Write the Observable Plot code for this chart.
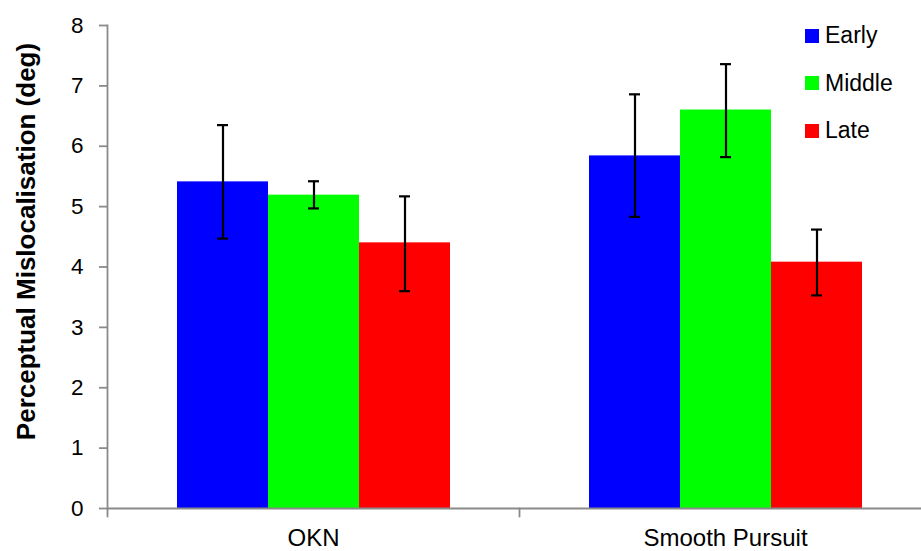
<!DOCTYPE html>
<html><head><meta charset="utf-8">
<script src="https://cdn.jsdelivr.net/npm/d3@7"></script>
<script src="https://cdn.jsdelivr.net/npm/@observablehq/plot@0.6"></script>
<style>
body{margin:0;background:#fff;}
#wrap{position:relative;width:921px;height:551px;font-family:"Liberation Sans",Arial,sans-serif;}
#legend{position:absolute;left:805px;top:12px;}
.item{display:flex;align-items:center;height:47.5px;font-size:23px;color:#000;}
.sw{width:14px;height:14px;margin-right:6px;}
</style></head>
<body><div id="wrap"></div>
<script>
const categories = ["OKN", "Smooth Pursuit"];
const phases = ["Early", "Middle", "Late"];
const phaseColors = ["#0000ff", "#00ff00", "#ff0000"];
const yTicks = [0, 1, 2, 3, 4, 5, 6, 7, 8];
const yLabel = "Perceptual Mislocalisation (deg)";

const earlyMean = [5.41, 5.84];
const middleMean = [5.19, 6.60];
const lateMean = [4.40, 4.08];

const earlyLow = [4.47, 4.83];
const earlyHigh = [6.35, 6.86];
const middleLow = [4.97, 5.82];
const middleHigh = [5.42, 7.36];
const lateLow = [3.60, 3.53];
const lateHigh = [5.17, 4.62];

const means = [earlyMean, middleMean, lateMean];
const lows = [earlyLow, middleLow, lateLow];
const highs = [earlyHigh, middleHigh, lateHigh];

const rows = [];
categories.forEach((c, ci) => phases.forEach((p, pi) => rows.push({
  category: c, phase: p, value: means[pi][ci], lo: lows[pi][ci], hi: highs[pi][ci]
})));

const gray = "#8a8a8a";
const font = "'Liberation Sans', Arial, sans-serif";

const chart = Plot.plot({
  width: 921,
  height: 551,
  marginLeft: 107,
  marginRight: -10,
  marginTop: 25,
  marginBottom: 43,
  style: {fontFamily: font, color: "#000", background: "#fff"},
  fx: {domain: categories, padding: 0, label: null},
  x: {domain: phases, paddingInner: 0, paddingOuter: 0.755, axis: null},
  y: {domain: [0, 8]},
  color: {domain: phases, range: phaseColors},
  marks: [
    Plot.barY(rows, {fx: "category", x: "phase", y: "value", fill: "phase"}),
    Plot.ruleX(rows, {fx: "category", x: "phase", y1: "lo", y2: "hi", stroke: "#000", strokeWidth: 2.2}),
    Plot.tickY(rows, {fx: "category", x: "phase", y: "lo", stroke: "#000", strokeWidth: 2.2, insetLeft: 40, insetRight: 40}),
    Plot.tickY(rows, {fx: "category", x: "phase", y: "hi", stroke: "#000", strokeWidth: 2.2, insetLeft: 40, insetRight: 40}),
    Plot.ruleY([0], {stroke: gray, strokeWidth: 1.8}),
    Plot.frame({anchor: "left", facetAnchor: "left", stroke: gray, strokeWidth: 1.8}),
    Plot.vector(categories, {fx: d => d, frameAnchor: "bottom-left", length: 8, rotate: 180, anchor: "start",
      stroke: gray, strokeWidth: 1.8,
      shape: {draw(ctx, l) { ctx.moveTo(0, 0); ctx.lineTo(0, -l); }}}),
    Plot.axisY({ticks: yTicks, tickSize: 8, tickPadding: 16, fontSize: 22.5, stroke: gray, strokeWidth: 1.8, fill: "#000", label: null}),
    Plot.axisFx({anchor: "bottom", tickSize: 0, tickPadding: 20, fontSize: 24, fill: "#000", label: null}),
    Plot.text([yLabel], {facet: "super", frameAnchor: "left", text: d => d, rotate: -90,
      dx: -81, dy: -25.5, fontSize: 26, fontWeight: "bold", fill: "#000", textAnchor: "middle", lineAnchor: "middle"})
  ]
});

const wrap = document.getElementById("wrap");
wrap.appendChild(chart);

const legend = document.createElement("div");
legend.id = "legend";
phases.forEach((p, i) => {
  const item = document.createElement("div");
  item.className = "item";
  const sw = document.createElement("span");
  sw.className = "sw";
  sw.style.background = phaseColors[i];
  const t = document.createElement("span");
  t.textContent = p;
  item.appendChild(sw);
  item.appendChild(t);
  legend.appendChild(item);
});
wrap.appendChild(legend);
</script>
</body></html>
